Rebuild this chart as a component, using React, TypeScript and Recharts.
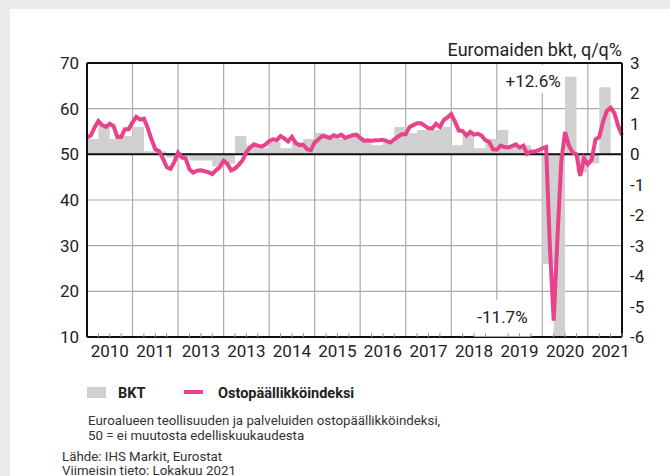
import React from 'react';
import { ComposedChart, Area, Line, XAxis, YAxis, CartesianGrid, ReferenceLine, ReferenceDot } from 'recharts';

// x-axis labels, one per year (as printed in the source, incl. the doubled 2013)
const YEAR_LABELS = ['2010', '2011', '2013', '2013', '2014', '2015', '2016', '2017', '2018', '2019', '2020', '2021'];

// Ostopäällikköindeksi, monthly, Jan 2010 - Oct 2021
const PMI_2010 = [53.7, 54.1, 55.9, 57.3, 56.4, 56.0, 56.7, 56.2, 53.8, 53.8, 55.5, 55.5];
const PMI_2011 = [57.0, 58.2, 57.6, 57.8, 55.8, 53.3, 51.1, 50.7, 49.1, 47.2, 46.8, 48.3];
const PMI_2012 = [50.4, 49.3, 49.1, 46.7, 46.0, 46.4, 46.5, 46.3, 46.1, 45.7, 46.5, 47.2];
const PMI_2013 = [48.6, 47.9, 46.5, 46.9, 47.7, 48.7, 50.5, 51.5, 52.2, 51.9, 51.7, 52.1];
const PMI_2014 = [52.9, 53.3, 53.1, 54.0, 53.5, 52.8, 53.8, 52.5, 52.0, 52.1, 51.1, 50.9];
const PMI_2015 = [52.6, 53.3, 54.0, 53.9, 53.6, 54.2, 53.9, 54.3, 53.6, 53.9, 54.2, 54.3];
const PMI_2016 = [53.6, 53.0, 53.1, 53.0, 53.1, 53.1, 53.2, 52.9, 52.6, 53.3, 53.9, 54.4];
const PMI_2017 = [54.4, 56.0, 56.4, 56.8, 56.8, 56.3, 55.7, 55.7, 56.7, 56.0, 57.5, 58.1];
const PMI_2018 = [58.8, 57.1, 55.2, 55.1, 54.1, 54.9, 54.3, 54.5, 54.1, 53.1, 52.7, 51.1];
const PMI_2019 = [51.0, 51.9, 51.6, 51.5, 51.8, 52.2, 51.5, 51.9, 50.1, 50.6, 50.6, 50.9];
const PMI_2020 = [51.3, 51.6, 29.7, 13.6, 31.9, 48.5, 54.9, 51.9, 50.4, 50.0, 45.3, 49.1];
const PMI_2021 = [47.8, 48.8, 53.2, 53.8, 57.1, 59.5, 60.2, 59.0, 56.2, 54.2];

// Euromaiden BKT q/q %, quarterly, Q1 2010 - Q2 2021
const BKT = [
  0.5, 1.0, 0.5, 0.6,
  0.9, 0.1, 0.1, -0.1,
  -0.1, -0.2, -0.2, -0.4,
  -0.3, 0.6, 0.3, 0.2,
  0.4, 0.2, 0.4, 0.5,
  0.7, 0.6, 0.5, 0.6,
  0.5, 0.3, 0.4, 0.9,
  0.7, 0.8, 0.8, 0.9,
  0.3, 0.7, 0.2, 0.5,
  0.8, 0.3, 0.3, 0.1,
  -3.6, -11.7, 12.6, -0.6,
  -0.3, 2.2,
];

const PMI_TICKS = [10, 20, 30, 40, 50, 60, 70];
const BKT_TICKS = [-6, -5, -4, -3, -2, -1, 0, 1, 2, 3];

// the +12.6 % bar is drawn cut short in the source
const BKT_CAP = 2.55;

const PMI = [...PMI_2010, ...PMI_2011, ...PMI_2012, ...PMI_2013, ...PMI_2014, ...PMI_2015,
  ...PMI_2016, ...PMI_2017, ...PMI_2018, ...PMI_2019, ...PMI_2020, ...PMI_2021];
const LAST_MONTH = PMI.length - 1;

const pmiData = PMI.map((v, i) => ({ m: i, pmi: v }));
const bktData = [
  ...BKT.map((v, q) => ({ m: q * 3, bkt: Math.min(v, BKT_CAP) })),
  { m: BKT.length * 3, bkt: Math.min(BKT[BKT.length - 1], BKT_CAP) },
];

const quarterTicks: number[] = [];
for (let m = 0; m <= LAST_MONTH; m += 3) quarterTicks.push(m);
const yearStarts = YEAR_LABELS.map((_, i) => i * 12);

const FONT = "Roboto, 'Liberation Sans', sans-serif";
const PINK = '#e9428a';

const YearTick = (props: any) => {
  const { x, y, payload } = props;
  const m = payload.value;
  return (
    <g>
      {m % 12 !== 0 && <line x1={x} x2={x} y1={y} y2={y - 4} stroke="#999" strokeWidth={1} />}
      {m % 12 === 6 && (
        <text x={x} y={y + 20} textAnchor="middle" fontSize={17} fill="#222" fontFamily={FONT}>
          {YEAR_LABELS[(m - 6) / 12]}
        </text>
      )}
    </g>
  );
};

const Note = (text: string, w: number, h: number, top: number, bottom: number) => (props: any) => {
  const { cx, cy } = props;
  return (
    <g>
      <rect x={cx - w / 2} y={cy - top} width={w} height={h} fill="#fff" />
      <text x={cx} y={cy + bottom} textAnchor="middle" fontSize={17} fill="#222" fontFamily={FONT}>{text}</text>
    </g>
  );
};

export default function App() {
  return (
    <div style={{ position: 'absolute', left: 0, top: 0, width: 670, height: 476, background: '#ebebeb', overflow: 'hidden' }}>
      <div style={{ position: 'absolute', left: 10, top: 9, width: 660, height: 467, background: '#fff' }} />
      <div style={{ position: 'absolute', left: 0, top: 0 }}>
        <ComposedChart width={670} height={372} margin={{ top: 63, right: 0, bottom: 0, left: 0 }} style={{ fontFamily: FONT }}>
          <CartesianGrid yAxisId="left" verticalValues={yearStarts} stroke="#aaa" strokeWidth={1.2} />
          <XAxis
            dataKey="m"
            type="number"
            domain={[0, LAST_MONTH]}
            ticks={quarterTicks}
            interval={0}
            tick={<YearTick />}
            tickLine={false}
            tickSize={0}
            tickMargin={0}
            axisLine={{ stroke: '#111', strokeWidth: 2 }}
            height={35}
          />
          <YAxis
            yAxisId="left"
            domain={[10, 70]}
            ticks={PMI_TICKS}
            interval={0}
            width={87}
            tickLine={false}
            axisLine={{ stroke: '#111', strokeWidth: 2 }}
            tick={{ fontSize: 17, fill: '#222' }}
          />
          <YAxis
            yAxisId="right"
            orientation="right"
            domain={[-6, 3]}
            ticks={BKT_TICKS}
            interval={0}
            width={48}
            allowDataOverflow
            tickLine={false}
            axisLine={{ stroke: '#111', strokeWidth: 2 }}
            tick={{ fontSize: 17, fill: '#222' }}
          />
          <Area
            yAxisId="right"
            data={bktData}
            dataKey="bkt"
            type="stepAfter"
            stroke="none"
            fill="#d0d0d0"
            fillOpacity={1}
            isAnimationActive={false}
          />
          <ReferenceLine yAxisId="left" y={70} stroke="#111" strokeWidth={2} />
          <ReferenceLine yAxisId="right" y={0} stroke="#111" strokeWidth={2} />
          <Line
            yAxisId="left"
            data={pmiData}
            dataKey="pmi"
            type="linear"
            stroke={PINK}
            strokeWidth={4}
            dot={false}
            isAnimationActive={false}
          />
          <ReferenceDot yAxisId="right" x={117.6} y={2.42} r={0} shape={Note('+12.6%', 60, 28, 15.5, 6)} />
          <ReferenceDot yAxisId="right" x={109.5} y={-5.33} r={0} shape={Note('-11.7%', 56, 37, 17, 6)} />
        </ComposedChart>
      </div>
      <svg width={670} height={476} style={{ position: 'absolute', left: 0, top: 0, fontFamily: FONT }}>
        <text x={622} y={56} textAnchor="end" fontSize={18} fill="#222">Euromaiden bkt, q/q%</text>
        <rect x={87} y={387} width={19} height={11} fill="#d0d0d0" />
        <text x={118} y={398} fontSize={14.5} fontWeight="bold" fill="#222">BKT</text>
        <line x1={184} x2={203} y1={392} y2={392} stroke={PINK} strokeWidth={4} />
        <text x={218} y={398} fontSize={14.5} fontWeight="bold" fill="#222">Ostopäällikköindeksi</text>
        <text x={88} y={424.5} fontSize={13.3} fill="#333">Euroalueen teollisuuden ja palveluiden ostopäällikköindeksi,</text>
        <text x={88} y={440} fontSize={13.3} fill="#333">50 = ei muutosta edelliskuukaudesta</text>
        <text x={62} y={461} fontSize={13.3} fill="#333">Lähde: IHS Markit, Eurostat</text>
        <text x={62} y={474.5} fontSize={13.3} fill="#333">Viimeisin tieto: Lokakuu 2021</text>
      </svg>
    </div>
  );
}
